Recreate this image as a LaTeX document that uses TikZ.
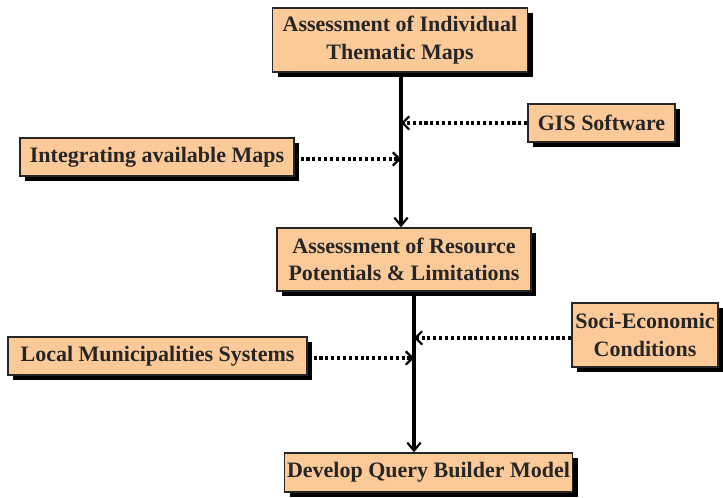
\documentclass[tikz,border=0pt]{standalone}
\usepackage{fontspec}
\setmainfont{Liberation Serif}
\usetikzlibrary{%
    arrows.meta,%
    shadows
}
\definecolor{boxfill}{RGB}{252,202,152}

\begin{document}
\begin{tikzpicture}[x=0.75pt,y=-0.75pt,
    box/.style={draw=black!85,line width=1.1pt,fill=boxfill,inner sep=0pt,align=center,
        font=\fontsize{16.5}{20.5}\selectfont\bfseries,text=black!85,
        drop shadow={shadow xshift=3.8pt,shadow yshift=-3.8pt,fill=black,opacity=1}},
    flow/.style={line width=2.6pt,-{Straight Barb[length=6pt,width=10pt,line width=1.6pt]}},
    feed/.style={line width=2.8pt,dash pattern=on 2.3pt off 2.1pt,
        -{Straight Barb[length=5pt,width=10pt,line width=1.6pt]}}]
\useasboundingbox (0,0) rectangle (723,498);

\node[box,minimum width=191.25pt,minimum height=48pt] (thematic) at (400,40) {Assessment of Individual\\Thematic Maps};
\node[box,minimum width=110.25pt,minimum height=28.5pt] (gis) at (601.5,123) {GIS Software};
\node[box,minimum width=205.5pt,minimum height=28.5pt] (integ) at (157,157) {Integrating available Maps};
\node[box,minimum width=190.5pt,minimum height=47.25pt] (resource) at (404,259.5) {Assessment of Resource\\Potentials \& Limitations};
\node[box,minimum width=109.5pt,minimum height=48pt] (soci) at (645,335) {Soci-Economic\\Conditions};
\node[box,minimum width=224.25pt,minimum height=28.5pt] (local) at (157.5,356) {Local Municipalities Systems};
\node[box,minimum width=216pt,minimum height=29.25pt] (query) at (428.5,472.5) {Develop Query Builder Model};

\coordinate (spine1) at (401,0);
\coordinate (spine2) at (414,0);

\draw[flow] (thematic.south -| spine1) -- (resource.north -| spine1);
\draw[flow] (resource.south -| spine2) -- (query.north -| spine2);

\draw[feed] (gis.west) -- (gis.west -| spine1);
\draw[feed] ([yshift=-1.5pt]integ.east) -- ([yshift=-1.5pt]integ.east -| spine1);
\draw[feed] ([yshift=-2.2pt]soci.west) -- ([yshift=-2.2pt]soci.west -| spine2);
\draw[feed] ([yshift=-1.5pt]local.east) -- ([yshift=-1.5pt]local.east -| spine2);
\end{tikzpicture}
\end{document}
